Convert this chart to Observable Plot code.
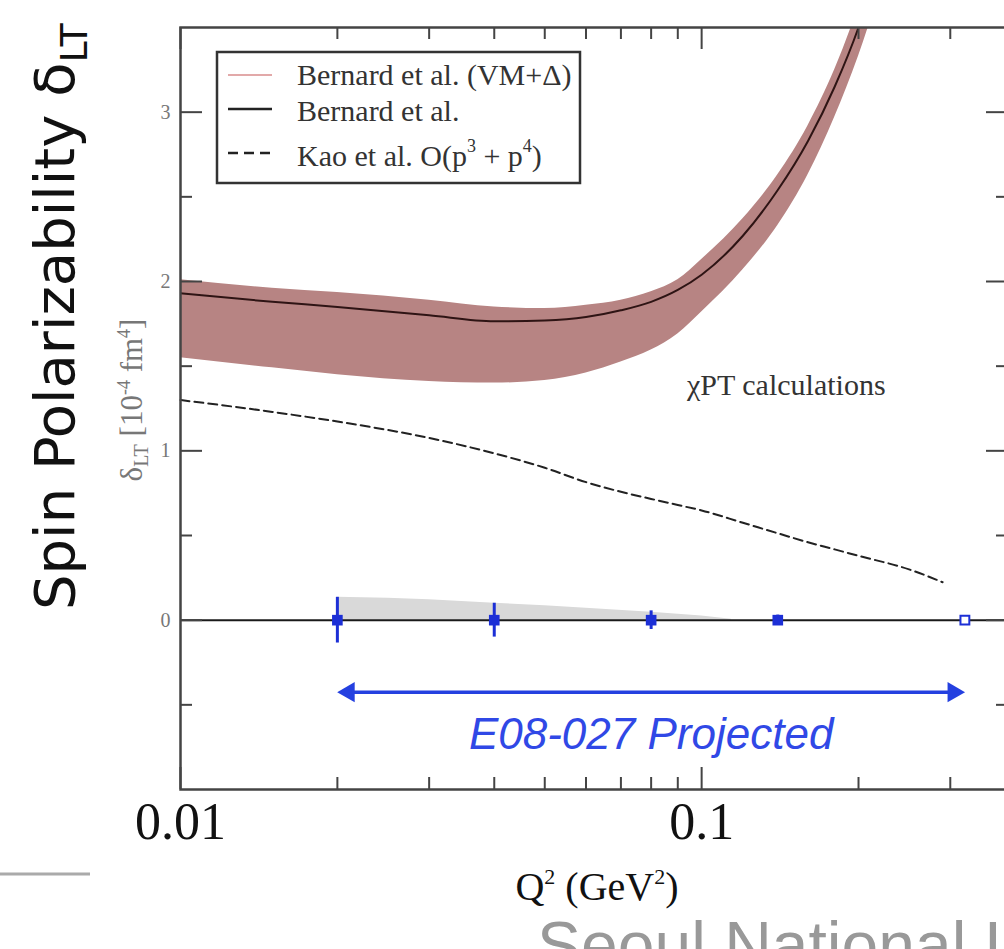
<!DOCTYPE html>
<html><head><meta charset="utf-8">
<script src="https://cdn.jsdelivr.net/npm/d3@7"></script>
<script src="https://cdn.jsdelivr.net/npm/@observablehq/plot@0.6"></script>
<style>
html,body{margin:0;padding:0;background:#fff;overflow:hidden;width:1004px;height:949px;}
#chart{position:absolute;left:0;top:0;}
</style></head><body><div id="chart"></div>
<script>
// ---- data ----
const q2Grid = [0.01,0.015,0.02,0.03,0.04,0.05,0.06,0.07,0.08,0.09,0.1,0.12,0.14,0.16,0.18,0.2,0.22];
const bernardCentral = [1.93,1.88,1.85,1.80,1.765,1.77,1.79,1.83,1.88,1.95,2.04,2.27,2.54,2.83,3.15,3.5,3.9];
const bandUpper = [2.01,1.96,1.935,1.89,1.85,1.84,1.86,1.89,1.94,2.01,2.13,2.37,2.63,2.92,3.25,3.62,4.0];
const bandLower = [1.55,1.49,1.45,1.41,1.40,1.415,1.46,1.525,1.595,1.69,1.82,2.07,2.33,2.63,2.97,3.33,3.72];

const kaoQ2 = [0.01,0.015,0.02,0.03,0.04,0.05,0.06,0.07,0.08,0.09,0.1,0.12,0.14,0.16,0.18,0.2,0.25,0.29];
const kaoVals = [1.30,1.23,1.173,1.076,0.985,0.90,0.815,0.758,0.716,0.68,0.648,0.575,0.513,0.46,0.418,0.38,0.30,0.224];

const projQ2 = [0.02,0.04,0.08,0.14,0.32];
const projVal = [0,0,0,0,0];
const projErr = [0.135,0.10,0.055,0.03,0.02];
const projOpen = [false,false,false,false,true];

const sysQ2 = [0.02,0.025,0.03,0.04,0.05,0.06,0.08,0.1,0.114];
const sysVal = [0.136,0.13,0.12,0.10,0.085,0.071,0.047,0.024,0.006];

const xMajorTicks = [0.01,0.1];
const xMinorTicks = [0.02,0.03,0.04,0.05,0.06,0.07,0.08,0.09,0.2,0.3];
const yMajorTicks = [0,1,2,3];
const yMinorTicks = [-0.5,0.5,1.5,2.5];

const arrowRange = [0.02,0.32];
const arrowLevel = -0.425;
const projLabel = "E08-027 Projected";
const projLabelPos = {q: 0.08, v: -0.68};

const legendLabels = ["Bernard et al. (VM+\u0394)","Bernard et al.","Kao et al. O(p"];
const annotation = "\u03c7PT calculations";

// ---- tables ----
const band = q2Grid.map((q,i)=>({q, lo: bandLower[i], hi: bandUpper[i], c: bernardCentral[i]}));
const kao = kaoQ2.map((q,i)=>({q, v: kaoVals[i]}));
const proj = projQ2.map((q,i)=>({q, v: projVal[i], e: projErr[i], open: projOpen[i]}));
const sys = sysQ2.map((q,i)=>({q, v: sysVal[i]}));

const W = 1010, H = 949, mL = 180, mR = 2, mT = 27, mB = 160;
const innerW = W - mL - mR, innerH = H - mT - mB;
const blue = "#1c2fd6";
const majorLen = 22, minorLen = 12;

const plot = Plot.plot({
  width: W, height: H,
  marginLeft: mL, marginRight: mR, marginTop: mT, marginBottom: mB,
  x: {type: "log", domain: [0.01, 0.388]},
  y: {domain: [-1, 3.5]},
  style: {background: "white", maxWidth: "none"},
  marks: [
    Plot.areaY(sys, {x: "q", y1: 0, y2: "v", fill: "#d9d9d9"}),
    Plot.areaY(band, {x: "q", y1: "lo", y2: "hi", fill: "#b78483", curve: "monotone-x", clip: true}),
    Plot.line(band, {x: "q", y: "c", stroke: "#2e1414", strokeWidth: 2, curve: "monotone-x", clip: true}),
    Plot.line(kao, {x: "q", y: "v", stroke: "#222", strokeWidth: 2, strokeDasharray: "9,5", curve: "monotone-x"}),
    Plot.ruleY([0], {stroke: "#1a1a1a", strokeWidth: 2}),
    Plot.ruleX(proj, {x: "q", y1: d => d.v - d.e, y2: d => d.v + d.e, stroke: blue, strokeWidth: 3}),
    Plot.dot(proj.filter(d => !d.open), {x: "q", y: "v", symbol: "square", r: 6, fill: blue}),
    Plot.dot(proj.filter(d => d.open), {x: "q", y: "v", symbol: "square", r: 5, fill: "white", stroke: blue, strokeWidth: 2}),
    Plot.ruleY([{y: arrowLevel, x1: arrowRange[0], x2: arrowRange[1]}], {y: "y", x1: "x1", x2: "x2", stroke: "#2440e0", strokeWidth: 3.5, insetLeft: 6, insetRight: 6}),
    Plot.dot([{x: arrowRange[0], y: arrowLevel}], {x: "x", y: "y", symbol: "triangle", r: 7.5, rotate: -90, dx: 11.5, fill: "#2440e0"}),
    Plot.dot([{x: arrowRange[1], y: arrowLevel}], {x: "x", y: "y", symbol: "triangle", r: 7.5, rotate: 90, dx: -11.5, fill: "#2440e0"}),
    Plot.text([projLabel], {x: () => projLabelPos.q, y: () => projLabelPos.v, text: d => d, fill: "#3048e6", fontSize: 44, fontStyle: "italic", fontFamily: "Liberation Sans, Arial, sans-serif"}),
    // inward ticks
    Plot.tickX(xMajorTicks, {x: d => d, insetTop: innerH - majorLen, stroke: "#444", strokeWidth: 2}),
    Plot.tickX(xMajorTicks, {x: d => d, insetBottom: innerH - majorLen, stroke: "#444", strokeWidth: 2}),
    Plot.tickX(xMinorTicks, {x: d => d, insetTop: innerH - minorLen, stroke: "#444", strokeWidth: 2}),
    Plot.tickX(xMinorTicks, {x: d => d, insetBottom: innerH - minorLen, stroke: "#444", strokeWidth: 2}),
    Plot.tickY(yMajorTicks, {y: d => d, insetRight: innerW - majorLen, stroke: "#444", strokeWidth: 2}),
    Plot.tickY(yMajorTicks, {y: d => d, insetLeft: innerW - majorLen, stroke: "#444", strokeWidth: 2}),
    Plot.tickY(yMinorTicks, {y: d => d, insetRight: innerW - minorLen, stroke: "#444", strokeWidth: 2}),
    Plot.tickY(yMinorTicks, {y: d => d, insetLeft: innerW - minorLen, stroke: "#444", strokeWidth: 2}),
    Plot.frame({stroke: "#444", strokeWidth: 2.5}),
    Plot.axisX(xMajorTicks, {tickSize: 0, tickPadding: 13, fontSize: 52, fontFamily: "Liberation Serif, serif", tickFormat: d => String(d), label: null, color: "#111"}),
    Plot.axisY(yMajorTicks, {tickSize: 0, tickPadding: 10, fontSize: 20, fontFamily: "Liberation Serif, serif", tickFormat: d => String(d), label: null, color: "#777"})
  ]
});
document.getElementById("chart").appendChild(plot);

// ---- annotations (text, legend) ----
const svg = d3.select(plot);
const serif = "Liberation Serif, serif";

// big slide title
const title = svg.append("text")
  .attr("transform", "translate(74,610) rotate(-90)")
  .attr("text-anchor", "start")
  .attr("font-family", "DejaVu Sans, sans-serif")
  .attr("font-size", 56).attr("fill", "#111");
title.append("tspan").text("Spin Polarizability \u03b4");
title.append("tspan").attr("dy", 13).attr("font-size", 38).text("LT");

// inner y label
const ylab = svg.append("text")
  .attr("transform", "translate(142,400) rotate(-90)")
  .attr("text-anchor", "middle")
  .attr("font-family", serif).attr("font-size", 31).attr("fill", "#777");
ylab.append("tspan").text("\u03b4");
ylab.append("tspan").attr("dy", 6).attr("font-size", 20).text("LT");
ylab.append("tspan").attr("dy", -6).text(" [10");
ylab.append("tspan").attr("dy", -12).attr("font-size", 18).text("-4");
ylab.append("tspan").attr("dy", 12).text(" fm");
ylab.append("tspan").attr("dy", -12).attr("font-size", 18).text("4");
ylab.append("tspan").attr("dy", 12).text("]");

// x label
const xlab = svg.append("text")
  .attr("x", 597).attr("y", 900).attr("text-anchor", "middle")
  .attr("font-family", serif).attr("font-size", 40).attr("fill", "#111");
xlab.append("tspan").text("Q");
xlab.append("tspan").attr("dy", -16).attr("font-size", 22).text("2");
xlab.append("tspan").attr("dy", 16).text(" (GeV");
xlab.append("tspan").attr("dy", -16).attr("font-size", 22).text("2");
xlab.append("tspan").attr("dy", 16).text(")");

// chiPT annotation
svg.append("text").attr("x", 687).attr("y", 395).attr("text-anchor", "start")
  .attr("font-family", serif).attr("font-size", 30).attr("fill", "#333").text(annotation);

// legend
const lg = svg.append("g");
lg.append("rect").attr("x", 217).attr("y", 52).attr("width", 363).attr("height", 131)
  .attr("fill", "white").attr("stroke", "#333").attr("stroke-width", 2.5);
const rows = [
  {ly: 75, ty: 85, stroke: "#d98c8c", w: 1.5, dash: null},
  {ly: 109, ty: 121, stroke: "#222", w: 2.5, dash: null},
  {ly: 153, ty: 166, stroke: "#222", w: 2.5, dash: "10,6"}
];
rows.forEach((r, i) => {
  lg.append("line").attr("x1", 228).attr("x2", 272).attr("y1", r.ly).attr("y2", r.ly)
    .attr("stroke", r.stroke).attr("stroke-width", r.w).attr("stroke-dasharray", r.dash);
  const t = lg.append("text").attr("x", 297).attr("y", r.ty).attr("text-anchor", "start")
    .attr("font-family", serif).attr("font-size", 30).attr("fill", "#333");
  t.append("tspan").text(legendLabels[i]);
  if (i === 2) {
    t.append("tspan").attr("dy", -14).attr("font-size", 18).text("3");
    t.append("tspan").attr("dy", 14).text(" + p");
    t.append("tspan").attr("dy", -14).attr("font-size", 18).text("4");
    t.append("tspan").attr("dy", 14).text(")");
  }
});

// slide decorations
svg.append("line").attr("x1", 0).attr("x2", 90).attr("y1", 874).attr("y2", 874)
  .attr("stroke", "#aaa").attr("stroke-width", 3);
svg.append("text").attr("x", 537).attr("y", 968).attr("text-anchor", "start")
  .attr("font-family", "Liberation Sans, sans-serif").attr("font-size", 66).attr("fill", "#999")
  .text("Seoul National University");
</script>
</body></html>
